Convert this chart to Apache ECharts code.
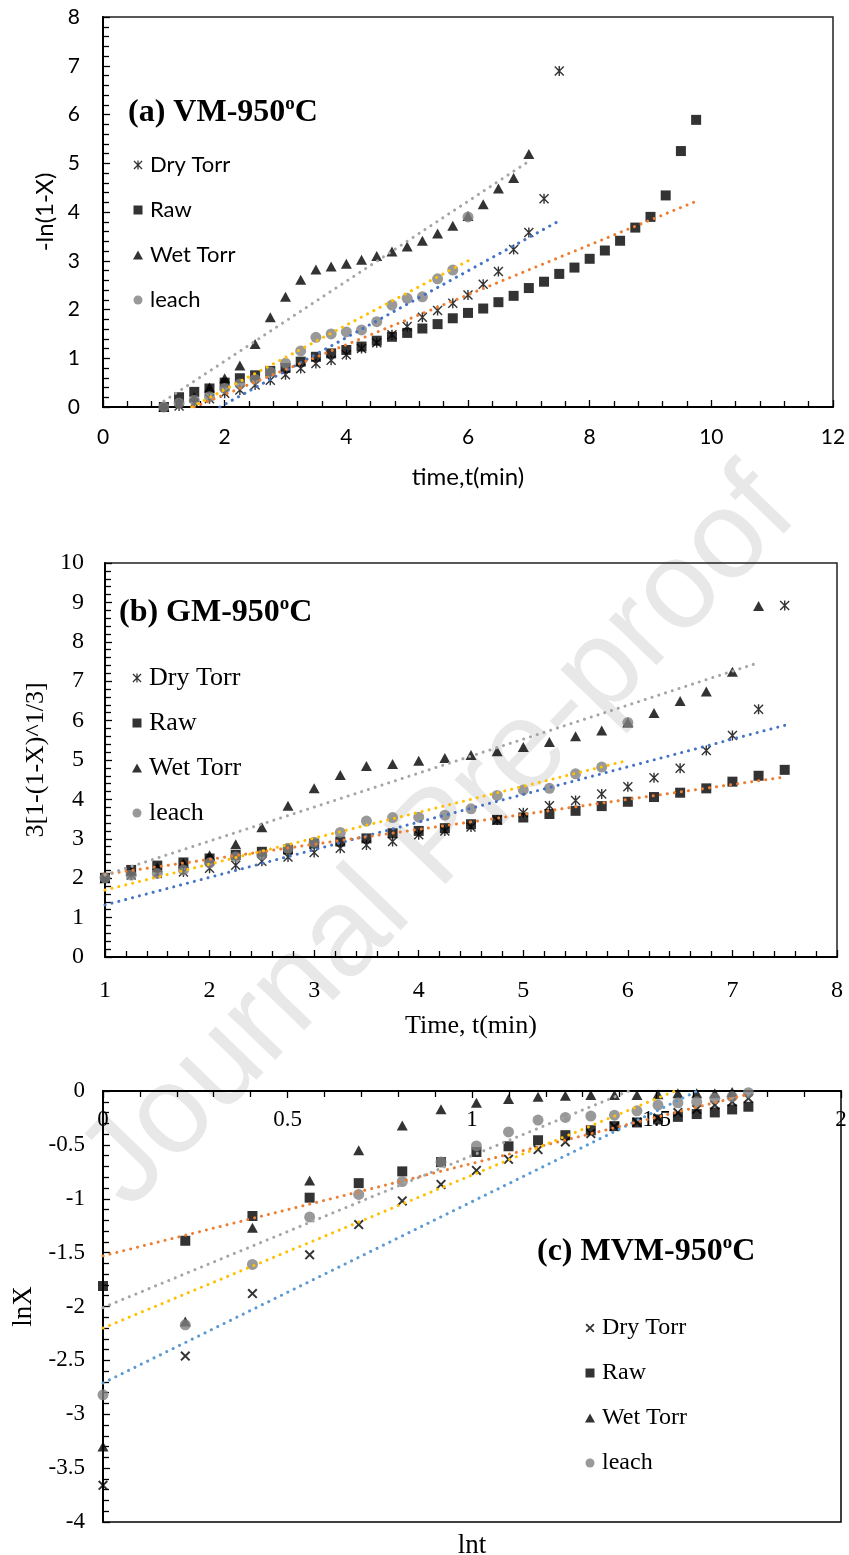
<!DOCTYPE html>
<html>
<head>
<meta charset="utf-8">
<script src="https://cdn.jsdelivr.net/npm/echarts@6/dist/echarts.min.js"></script>
<style>
  html, body { margin: 0; padding: 0; background: #fff; }
  #chart { width: 849px; height: 1555px; }
</style>
</head>
<body>
<div id="chart"></div>
<script>
// ---- data ----
var timeA = [1,1.25,1.5,1.75,2,2.25,2.5,2.75,3,3.25,3.5,3.75,4,4.25,4.5,4.75,5,5.25,5.5,5.75,6,6.25,6.5,6.75,7,7.25,7.5,7.75,8,8.25,8.5,8.75,9,9.25,9.5,9.75];

// (a) VM-950, -ln(1-X)
var dryA   = [0,0.02,0.08,0.17,0.28,0.35,0.45,0.55,0.66,0.79,0.89,0.96,1.07,1.2,1.32,1.48,1.65,1.84,1.98,2.13,2.3,2.52,2.78,3.23,3.58,4.27,6.89];
var rawA   = [0,0.2,0.31,0.38,0.5,0.59,0.65,0.74,0.8,0.93,1.03,1.1,1.17,1.24,1.36,1.44,1.52,1.61,1.70,1.82,1.93,2.02,2.15,2.28,2.44,2.57,2.73,2.86,3.04,3.21,3.41,3.68,3.9,4.34,5.25,5.89];
var wetA   = [0,0.1,0.2,0.4,0.59,0.85,1.29,1.84,2.26,2.61,2.82,2.88,2.94,3.02,3.1,3.19,3.29,3.41,3.56,3.72,3.92,4.16,4.48,4.7,5.19];
var leachA = [0,0.08,0.14,0.21,0.38,0.47,0.57,0.72,0.9,1.15,1.43,1.5,1.54,1.58,1.75,2.09,2.23,2.26,2.63,2.81,3.9];
var trendA = {
  dry:   [[1.92,0],[7.5,3.82]],
  raw:   [[1.5,0],[9.75,4.22]],
  wet:   [[1,0.12],[7,5.04]],
  leach: [[1.46,0],[6,3.0]]
};

// (b) GM-950, 3[1-(1-X)^1/3]
var dryB   = [2.0,2.08,2.12,2.16,2.25,2.33,2.43,2.54,2.65,2.76,2.84,2.93,3.1,3.2,3.3,3.48,3.66,3.84,3.97,4.14,4.32,4.55,4.79,5.24,5.62,6.29,8.92];
var rawB   = [2.01,2.21,2.32,2.40,2.50,2.59,2.67,2.73,2.88,2.93,3.01,3.14,3.20,3.27,3.37,3.48,3.54,3.63,3.71,3.83,3.94,4.06,4.17,4.28,4.45,4.6,4.75];
var wetB   = [2.0,2.18,2.28,2.38,2.58,2.86,3.29,3.84,4.28,4.62,4.85,4.9,4.98,5.05,5.13,5.22,5.33,5.46,5.6,5.75,5.95,6.19,6.5,6.74,7.24,8.91];
var leachB = [2.01,2.08,2.12,2.21,2.39,2.54,2.59,2.76,2.91,3.16,3.45,3.54,3.55,3.6,3.76,4.1,4.24,4.28,4.65,4.82,5.95];
var trendB = {
  dry:   [[1,1.32],[7.5,5.88]],
  raw:   [[1,2.1],[7.5,4.57]],
  wet:   [[1,2.08],[7.25,7.47]],
  leach: [[1,1.70],[6,4.99]]
};

// (c) MVM-950, lnX vs lnt
var lntC   = [0,0.223,0.405,0.56,0.693,0.811,0.916,1.012,1.099,1.179,1.253,1.322,1.386,1.447,1.504,1.558,1.609,1.658,1.705,1.749];
var dryC   = [-3.66,-2.46,-1.88,-1.52,-1.24,-1.02,-0.867,-0.737,-0.634,-0.544,-0.473,-0.395,-0.33,-0.29,-0.25,-0.2,-0.17,-0.13,-0.1,-0.068];
var rawC   = [-1.81,-1.39,-1.16,-0.99,-0.855,-0.746,-0.66,-0.566,-0.513,-0.457,-0.41,-0.364,-0.326,-0.292,-0.264,-0.24,-0.214,-0.199,-0.171,-0.146];
var wetC   = [-3.3,-2.14,-1.27,-0.83,-0.55,-0.32,-0.17,-0.109,-0.075,-0.053,-0.044,-0.037,-0.037,-0.037,-0.03,-0.02,-0.02,-0.02,-0.01];
var leachC = [-2.82,-2.17,-1.61,-1.17,-0.96,-0.84,-0.66,-0.51,-0.38,-0.27,-0.245,-0.233,-0.224,-0.184,-0.131,-0.109,-0.1,-0.068,-0.053,-0.016];
var trendC = {
  dry:   [[0,-2.71],[1.61,0]],
  raw:   [[0,-1.53],[1.749,-0.03]],
  wet:   [[0,-2.01],[1.425,0]],
  leach: [[0,-2.20],[1.55,0]]
};

var seriesNames = ['Dry Torr', 'Raw', 'Wet Torr', 'leach'];

// ---- styling ----
var SANS = 'Lato';
var SERIF = 'Liberation Serif';
var ASTER = 'path://M4.3,0L5.7,0L5.7,10L4.3,10Z M0,1L1,0L10,9L9,10Z M9,0L10,1L1,10L0,9Z';
var CROSS = 'path://M0,1.4L1.4,0L10,8.6L8.6,10Z M8.6,0L10,1.4L1.4,10L0,8.6Z';
var SQUARE = 'path://M0,0L10,0L10,10L0,10Z';
var TRI = 'path://M5,0L10,9L0,9Z';
var DISC = 'path://M5,0A5,5 0 1,1 5,10A5,5 0 1,1 5,0Z';
var GRAYDOT = '#808080';

function pairs(xs, ys) {
  return ys.map(function (y, i) { return [xs[i], y]; });
}

function makeAxes(idx, o) {
  var tickStyle = { color: '#000', width: 1.3 };
  var x = {
    type: 'value', gridIndex: idx, min: o.xmin, max: o.xmax, interval: o.xint,
    position: o.xTop ? 'top' : 'bottom',
    axisLine: { show: true, onZero: false, lineStyle: { color: '#000', width: 2 } },
    axisTick: { show: true, inside: true, length: 7, lineStyle: tickStyle },
    minorTick: { show: true, splitNumber: 5, length: 6, lineStyle: tickStyle },
    splitLine: { show: false },
    axisLabel: { color: '#000', fontFamily: o.font, fontSize: o.tickSize, margin: o.xMargin, inside: !!o.xTop,
                 showMinLabel: true, showMaxLabel: true },
    name: o.xTop ? '' : o.xname, nameLocation: 'middle', nameGap: o.xGap,
    nameTextStyle: { color: '#000', fontFamily: o.font, fontSize: o.nameSize }
  };
  var y = {
    type: 'value', gridIndex: idx, min: o.ymin, max: o.ymax, interval: o.yint,
    axisLine: { show: true, onZero: false, lineStyle: { color: '#000', width: 2 } },
    axisTick: { show: true, inside: true, length: 7, lineStyle: tickStyle },
    minorTick: { show: true, splitNumber: 5, length: 6, lineStyle: tickStyle },
    splitLine: { show: false },
    axisLabel: { color: '#000', fontFamily: o.font, fontSize: o.tickSize, margin: o.yMargin, showMinLabel: true, showMaxLabel: true },
    name: o.yname, nameLocation: 'middle', nameGap: o.yGap,
    nameTextStyle: { color: '#000', fontFamily: o.font, fontSize: o.nameSize }
  };
  return { x: x, y: y };
}

function scatterSet(idx, xs, dry, raw, wet, leach, dryIcon, trend, blue) {
  var base = { type: 'scatter', xAxisIndex: idx, yAxisIndex: idx, z: 2, silent: true };
  var list = [
    Object.assign({}, base, { name: 'Dry Torr', data: pairs(xs, dry), symbol: dryIcon, symbolSize: 10, itemStyle: { color: '#000' } }),
    Object.assign({}, base, { name: 'Raw', data: pairs(xs, raw), symbol: 'rect', symbolSize: 10, itemStyle: { color: '#000' } }),
    Object.assign({}, base, { name: 'Wet Torr', data: pairs(xs, wet), symbol: 'triangle', symbolSize: [11, 10], itemStyle: { color: '#000' } }),
    Object.assign({}, base, { name: 'leach', data: pairs(xs, leach), symbol: 'circle', symbolSize: 11, itemStyle: { color: GRAYDOT } })
  ];
  var colors = { dry: blue, raw: '#ED7D31', wet: '#A5A5A5', leach: '#FFC000' };
  ['dry', 'raw', 'wet', 'leach'].forEach(function (k) {
    list.push({
      type: 'line', name: 'trend-' + idx + '-' + k, xAxisIndex: idx, yAxisIndex: idx, z: 3,
      data: trend[k], symbol: 'none', silent: true,
      lineStyle: { color: colors[k], width: 3, type: [0.1, 7], cap: 'round' }
    });
  });
  return list;
}

function legendFor(left, top, font, size, lh, gap, dryIcon) {
  var icons = [dryIcon, SQUARE, TRI, DISC];
  return {
    orient: 'vertical', left: left, top: top, padding: 0,
    itemWidth: 14, itemHeight: 9, itemGap: gap, symbolKeepAspect: true,
    selectedMode: false,
    textStyle: { color: '#000', fontFamily: font, fontSize: size, lineHeight: lh },
    data: seriesNames.map(function (n, i) { return { name: n, icon: icons[i] }; })
  };
}

function titleFor(txt, left, top) {
  return {
    text: '{b|' + txt + '}{s|o}{b|C}', left: left, top: top, padding: 0,
    textStyle: {
      rich: {
        b: { fontFamily: SERIF, fontWeight: 'bold', fontSize: 32, lineHeight: 36, color: '#000' },
        s: { fontFamily: SERIF, fontWeight: 'bold', fontSize: 19, lineHeight: 22, verticalAlign: 'top', color: '#000' }
      }
    }
  };
}

var axA = makeAxes(0, { xmin: 0, xmax: 12, xint: 2, ymin: 0, ymax: 8, yint: 1, font: SANS, tickSize: 21, nameSize: 24,
  xMargin: 20, yMargin: 23, xname: 'time,t(min)', xGap: 58, yname: '-ln(1-X)', yGap: 44 });
var axB = makeAxes(1, { xmin: 1, xmax: 8, xint: 1, ymin: 0, ymax: 10, yint: 1, font: SERIF, tickSize: 24, nameSize: 26,
  xMargin: 22, yMargin: 21, xname: 'Time, t(min)', xGap: 56, yname: '3[1-(1-X)^1/3]', yGap: 50 });
var axC = makeAxes(2, { xmin: 0, xmax: 2, xint: 0.5, ymin: -4, ymax: 0, yint: 0.5, font: SERIF, tickSize: 23, nameSize: 27,
  xMargin: 17, yMargin: 18, xTop: true, yname: 'lnX', yGap: 66 });

// bare bottom axis of panel (c), only carries the 'lnt' title
var xNameC = {
  type: 'value', gridIndex: 2, min: 0, max: 2, position: 'bottom',
  axisLine: { show: false }, axisTick: { show: false }, axisLabel: { show: false }, splitLine: { show: false },
  name: 'lnt', nameLocation: 'middle', nameGap: 10,
  nameTextStyle: { color: '#000', fontFamily: SERIF, fontSize: 27 }
};

var chart = echarts.init(document.getElementById('chart'), null, { renderer: 'canvas' });
var option = {
  animation: false,
  backgroundColor: '#fff',
  grid: [
    { left: 103, top: 17, width: 730, height: 390, show: true, borderColor: '#222', borderWidth: 1.5, containLabel: false, outerBoundsMode: 'none' },
    { left: 105, top: 563, width: 732, height: 394, show: true, borderColor: '#222', borderWidth: 1.5, containLabel: false, outerBoundsMode: 'none' },
    { left: 103, top: 1091, width: 738, height: 431, show: true, borderColor: '#000', borderWidth: 1.5, containLabel: false, outerBoundsMode: 'none' }
  ],
  xAxis: [axA.x, axB.x, axC.x, xNameC],
  yAxis: [axA.y, axB.y, axC.y],
  title: [
    titleFor('(a) VM-950', 128, 95),
    titleFor('(b) GM-950', 119, 595),
    titleFor('(c) MVM-950', 537, 1234)
  ],
  legend: [
    legendFor(133, 153, SANS, 22, 24, 21, ASTER),
    legendFor(132, 664, SERIF, 26, 28, 17, ASTER),
    legendFor(585, 1315, SERIF, 24, 26, 19, CROSS)
  ],
  graphic: [{
    type: 'text', silent: true, z: -10,
    x: 440, y: 840, rotation: 46 * Math.PI / 180,
    style: { text: 'Journal Pre-proof', font: '125px "Liberation Sans"', fill: '#e8e8e8', align: 'center', verticalAlign: 'middle' }
  }],
  series: [].concat(
    scatterSet(0, timeA, dryA, rawA, wetA, leachA, ASTER, trendA, '#4472C4'),
    scatterSet(1, timeA, dryB, rawB, wetB, leachB, ASTER, trendB, '#4472C4'),
    scatterSet(2, lntC, dryC, rawC, wetC, leachC, CROSS, trendC, '#5B9BD5')
  )
};
chart.setOption(option);
</script>
</body>
</html>
